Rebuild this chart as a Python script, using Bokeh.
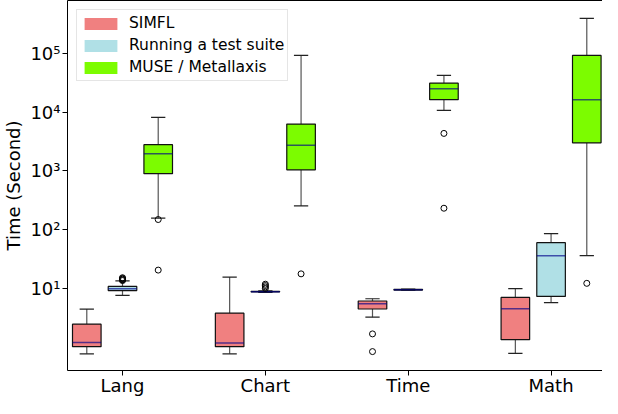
from bokeh.plotting import figure
from bokeh.models import Range1d, FixedTicker, Legend, LegendItem, ColumnDataSource, LinearAxis
from bokeh.embed import file_html
from bokeh.resources import INLINE

categories = ["Lang", "Chart", "Time", "Math"]
series_names = ["SIMFL", "Running a test suite", "MUSE / Metallaxis"]
series_colors = ["#F08080", "#B0E0E6", "#7CFC00"]
y_ticks = [10, 100, 1000, 10000, 100000]
y_tick_labels = ["10\u00b9", "10\u00b2", "10\u00b3", "10\u2074", "10\u2075"]

simfl_low = [0.77, 0.77, 3.24, 0.78]
simfl_q1 = [1.02, 1.02, 4.46, 1.34]
simfl_med = [1.2, 1.18, 5.46, 4.5]
simfl_q3 = [2.46, 3.78, 6.1, 7.03]
simfl_high = [4.45, 15.6, 6.67, 9.9]
simfl_out = [[], [], [1.68, 0.84], []]

run_low = [7.6, 8.55, 9.3, 5.73]
run_q1 = [9.2, 8.7, 9.38, 7.3]
run_med = [9.9, 8.8, 9.5, 35.9]
run_q3 = [10.8, 8.9, 9.65, 60.1]
run_high = [13.4, 9.05, 9.75, 85.7]
run_out = [[13.6, 14.0, 14.4, 14.8, 15.2], [10.0, 10.6, 11.2, 11.8], [], []]

muse_low = [157, 254, 10800, 36.3]
muse_q1 = [900, 1047, 16400, 3020]
muse_med = [1960, 2730, 25200, 16400]
muse_q3 = [2800, 6280, 31300, 92700]
muse_high = [8200, 92700, 42300, 396000]
muse_out = [[149, 20.5], [17.7], [4360, 232], [12.2]]

series = [
    (simfl_low, simfl_q1, simfl_med, simfl_q3, simfl_high, simfl_out),
    (run_low, run_q1, run_med, run_q3, run_high, run_out),
    (muse_low, muse_q1, muse_med, muse_q3, muse_high, muse_out),
]
offsets = [-0.25, 0.0, 0.25]
box_w = 0.2
cap_w = 0.1

FONT = "DejaVu Sans"

p = figure(width=602, height=398, y_axis_type="log",
           x_range=Range1d(0.615, 4.36), y_range=Range1d(0.4, 8.0e5),
           output_backend="svg", toolbar_location=None,
           min_border_left=61, min_border_right=0, min_border_top=0, min_border_bottom=0)
p.grid.visible = False
p.outline_line_color = None
p.background_fill_color = "white"
p.border_fill_color = "white"

x_axis = p.below[0]
y_axis = p.left[0]

legend_renderers = []
for k, (low, q1, med, q3, high, outs) in enumerate(series):
    xs = [i + 1 + offsets[k] for i in range(len(categories))]
    src = ColumnDataSource(dict(
        x=xs, xl=[x - cap_w / 2 for x in xs], xr=[x + cap_w / 2 for x in xs],
        bl=[x - box_w / 2 for x in xs], br=[x + box_w / 2 for x in xs],
        low=low, q1=q1, med=med, q3=q3, high=high))
    p.segment(x0="x", y0="low", x1="x", y1="q1", source=src, line_color="#555555", line_width=1.2)
    p.segment(x0="x", y0="q3", x1="x", y1="high", source=src, line_color="#555555", line_width=1.2)
    p.segment(x0="xl", y0="low", x1="xr", y1="low", source=src, line_color="#222222", line_width=1.2)
    p.segment(x0="xl", y0="high", x1="xr", y1="high", source=src, line_color="#222222", line_width=1.2)
    r = p.vbar(x="x", width=box_w, bottom="q1", top="q3", source=src,
               fill_color=series_colors[k], line_color=None)
    legend_renderers.append(r)
    p.vbar(x="x", width=box_w, bottom="q1", top="q3", source=src,
           fill_color=series_colors[k], line_color="#111111", line_width=1.2)
    p.segment(x0="bl", y0="med", x1="br", y1="med", source=src,
              line_color="#00008B", line_alpha=0.65, line_width=1.5)
    ox, oy = [], []
    for i, vals in enumerate(outs):
        for v in vals:
            ox.append(xs[i])
            oy.append(v)
    p.scatter(x=ox, y=oy, size=6, marker="circle", fill_color=None, line_color="black", line_width=1)

legend = Legend(items=[LegendItem(label=series_names[k], renderers=[legend_renderers[k]]) for k in range(3)],
                location="top_left", margin=9, padding=3, spacing=2,
                glyph_width=41, glyph_height=15, label_height=20, label_standoff=8,
                label_text_font=FONT, label_text_font_size="15.5px", label_text_color="black",
                border_line_color="#cccccc", border_line_width=1,
                background_fill_color="white", background_fill_alpha=0.8)
p.add_layout(legend)

top_axis = LinearAxis(ticker=FixedTicker(ticks=[], minor_ticks=[]), axis_line_color="black",
                      major_tick_line_color=None, minor_tick_line_color=None,
                      major_label_standoff=0, major_tick_out=0, major_tick_in=0)
p.add_layout(top_axis, "above")

x_axis.ticker = FixedTicker(ticks=[i + 1 for i in range(len(categories))], minor_ticks=[])
x_axis.major_label_overrides = {i + 1: c for i, c in enumerate(categories)}
y_axis.ticker = FixedTicker(ticks=y_ticks, minor_ticks=[])
y_axis.major_label_overrides = {t: l for t, l in zip(y_ticks, y_tick_labels)}
y_axis.axis_label = "Time (Second)"

for ax in (x_axis, y_axis):
    ax.major_label_text_font = FONT
    ax.major_label_text_font_size = "18px"
    ax.major_label_text_color = "black"
    ax.axis_label_text_font = FONT
    ax.axis_label_text_font_size = "18px"
    ax.axis_label_text_font_style = "normal"
    ax.axis_label_text_color = "black"
    ax.major_tick_in = 0
    ax.major_tick_out = 5
    ax.major_tick_line_color = "black"
    ax.axis_line_color = "black"
    ax.minor_tick_line_color = None
    ax.major_label_standoff = 2
x_axis.major_label_standoff = -1
y_axis.axis_label_standoff = 3

open("out.html", "w").write(file_html(p, INLINE))
